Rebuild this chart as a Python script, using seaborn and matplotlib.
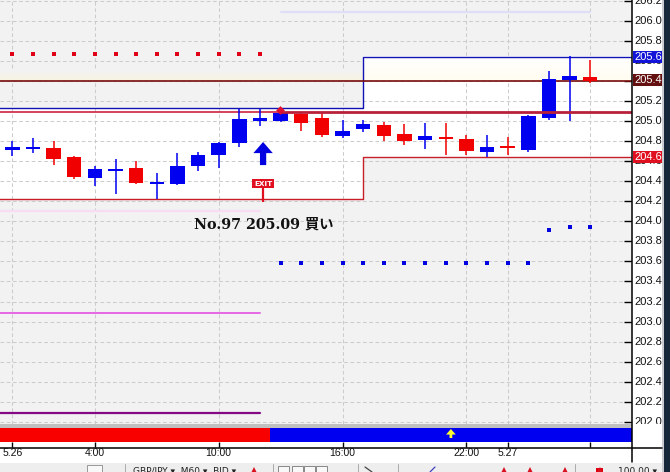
import numpy as np
import pandas as pd
import matplotlib
matplotlib.use("Agg")
import matplotlib.pyplot as plt
from matplotlib.patches import Rectangle
import seaborn as sns

sns.set_theme(style="white")

# --- data ---
opens  = [204.74,204.744,204.731,204.638,204.432,204.502,204.532,204.375,204.372,204.552,204.664,204.784,205.00,205.00,205.07,205.03,
          204.85,204.92,204.96,204.87,204.811,204.84,204.82,204.691,204.751,204.711,205.03,205.408,205.438]
closes = [204.714,204.721,204.622,204.445,204.522,204.522,204.382,204.392,204.552,204.661,204.781,205.02,205.03,205.08,204.983,204.861,
          204.90,204.97,204.85,204.80,204.85,204.82,204.70,204.741,204.731,205.05,205.418,205.448,205.40]
highs  = [204.80,204.828,204.80,204.651,204.552,204.622,204.602,204.479,204.681,204.691,204.794,205.123,205.123,205.12,205.083,205.083,
          205.01,205.01,204.987,204.97,204.98,204.98,204.861,204.861,204.84,205.06,205.498,205.647,205.607]
lows   = [204.654,204.678,204.565,204.419,204.353,204.273,204.375,204.22,204.366,204.505,204.532,204.744,204.953,204.993,204.903,204.844,
          204.83,204.893,204.80,204.761,204.721,204.661,204.661,204.641,204.661,204.691,205.01,205.0,205.375]
bull   = [1,1,0,0,1,1,0,1,1,1,1,1,1,1,0,0,1,1,0,0,1,0,0,1,0,1,1,1,0]

y_ticks = [206.2,206.0,205.8,205.6,205.4,205.2,205.0,204.8,204.6,204.4,204.2,204.0,203.8,203.6,203.4,203.2,203.0,202.8,202.6,202.4,202.2,202.0]
x_tick_idx = [0,4,10,16,22,24,28]
x_tick_lbl = ["5.26","4:00","10:00","16:00","22:00","5.27",""]

upper_x, upper_y = [-1,17.01,17.01,31], [205.126,205.126,205.64,205.64]
lower_x, lower_y = [-1,17.01,17.01,31], [204.22,204.22,204.638,204.638]
res_level = 205.40
entry_level = 205.09
entry_idx = 13
pink_level, magenta_level, purple_level = 204.104, 203.088, 202.09
top_level = 206.086
red_dot_idx = list(range(0,13))
red_dot_y = [205.662]*13
blue_dot_idx = list(range(13,29))
blue_dot_y = [203.58]*13 + [203.914,203.944,203.944]
exit_idx, exit_price = 12.15, 204.193
arrow_low, arrow_high = 204.56, 204.79
bar_split = 12.49
n_bars = 29
badges = [(205.64,"205.64","#1414d8"),(205.41,"205.41","#641010"),(204.64,"204.64","#e01020")]

BLUE, RED = "#0000f0", "#f00000"
df = pd.DataFrame(dict(i=range(n_bars), o=opens, c=closes, h=highs, l=lows, bull=bull))

W, H = 670, 472
STEP = 20.64
fig = plt.figure(figsize=(W/100, H/100), dpi=100, facecolor="white")
def box(l, t, r, b):
    return [l/W, 1-b/H, (r-l)/W, (b-t)/H]

xlim = (-12.3/STEP, (632-12.3)/STEP)
ylim = (201.98, 206.205)

ax = fig.add_axes(box(0,0,632,424), facecolor="#f2f2f3")
ax.set_xlim(xlim); ax.set_ylim(ylim)

# channel fill and cream band
ax.fill_between(upper_x, lower_y, upper_y, color="white", lw=0, zorder=0.5)
cream = matplotlib.colors.LinearSegmentedColormap.from_list("c", ["#fffdf0","#ffffff"])
ax.imshow(np.linspace(0,1,20)[:,None], cmap=cream, aspect="auto", zorder=0.6,
          extent=(17.01,xlim[1],res_level,upper_y[-1]), origin="lower")
cream2 = matplotlib.colors.LinearSegmentedColormap.from_list("c2", ["#f8f4e2","#f2f2f3"])
ax.imshow(np.linspace(0,1,20)[:,None], cmap=cream2, aspect="auto", zorder=0.6,
          extent=(xlim[0],17.01,res_level,res_level+0.1), origin="lower")
ax.set_xlim(xlim); ax.set_ylim(ylim)

# grid
ax.set_yticks(y_ticks); ax.set_xticks(x_tick_idx)
ax.set_xticklabels([]); ax.set_yticklabels([])
ax.grid(True, color="#cccccc", ls=(0,(3.5,2.5)), lw=0.75, zorder=1)
ax.set_axisbelow(True)
ax.tick_params(axis="both", length=0)
ax.yaxis.tick_right()
ax.tick_params(axis="y", right=True, direction="in", length=6, width=1, color="black")
for s in ax.spines.values():
    s.set_visible(False)

# levels
def level(xs, ys, color, lw, z=3):
    sns.lineplot(x=xs, y=ys, ax=ax, color=color, lw=lw, zorder=z, legend=False, sort=False, estimator=None)
level(upper_x, upper_y, "#1212b4", 1.0)
level(lower_x, lower_y, "#c81e28", 1.0)
level([-1,31], [res_level]*2, "#7a0c0c", 1.2)
level([-1,entry_idx], [entry_level]*2, "#c8102e", 1.1)
level([entry_idx,31], [entry_level]*2, "#b8203a", 2.0, z=6)
level([-1,12], [pink_level]*2, "#f8dcf2", 1.6)
level([-1,12], [magenta_level]*2, "#e468e4", 1.4)
level([-1,12], [purple_level]*2, "#840a84", 1.6)
level([13,28], [top_level]*2, "#dedef8", 1.6)

# candles
colors = [BLUE if b else RED for b in df.bull]
ax.vlines(df.i, df.l, df.h, colors=colors, lw=1.1, zorder=4)
ax.bar(df.i, (df.c-df.o).abs().clip(lower=0.02), bottom=df[["o","c"]].min(axis=1),
       width=0.70, color=colors, lw=0, zorder=5)

# dots
sns.scatterplot(x=red_dot_idx, y=red_dot_y, ax=ax, color="#e00018", marker="s", s=10, lw=0, zorder=4, legend=False)
sns.scatterplot(x=blue_dot_idx, y=blue_dot_y, ax=ax, color="#0000e0", marker="s", s=10, lw=0, zorder=4, legend=False)
ax.scatter([entry_idx-0.05],[entry_level+0.015], marker="D", s=20, color="#e01030", lw=0, zorder=7)

# signals
ax.annotate("", xy=(exit_idx,arrow_high), xytext=(exit_idx,arrow_low), zorder=7,
            arrowprops=dict(facecolor="#0000e0", edgecolor="none", width=4.5, headwidth=14, headlength=8, shrinkA=0, shrinkB=0))
ax.vlines([exit_idx],[exit_price],[204.33], color="#e01020", lw=1.6, zorder=7)
ax.text(exit_idx, 204.375, "EXIT", color="white", fontsize=5.2, fontweight="bold", ha="center", va="center",
        family="DejaVu Sans", zorder=8,
        bbox=dict(boxstyle="square,pad=0.22", fc="#e01020", ec="none"))
ax.text(8.80, 203.97, "No.97 205.09 買い", fontsize=10.3, fontweight="bold", color="#111111",
        family=["DejaVu Serif","Noto Sans CJK JP"], ha="left", va="center", zorder=8)

# price panel
pn = fig.add_axes(box(632,0,662,424), facecolor="white")
pn.set_xlim(0,30); pn.set_ylim(ylim); pn.set_xticks([]); pn.set_yticks([])
for s in pn.spines.values():
    s.set_visible(False)
LBL = dict(fontsize=8, family="Liberation Sans", va="center", ha="left", clip_on=True)
for t in y_ticks:
    pn.text(2, t, f"{t:.2f}", color="#111111", **LBL)
for p, s, c in badges:
    pn.add_patch(Rectangle((1,p-0.06),29,0.12,fc=c,ec="none",zorder=3))
    pn.text(2, p, s, color="white", zorder=4, **LBL)

# signal strip
st = fig.add_axes(box(0,424,632,447), facecolor="white")
st.set_xlim(xlim); st.set_ylim(447,424)
st.set_yticks([]); st.set_xticks(x_tick_idx); st.set_xticklabels([])
st.tick_params(axis="x", bottom=True, direction="in", length=3.5, width=1, color="black")
for s in st.spines.values():
    s.set_visible(False)
st.axhspan(424,428,color="#c0c0c0",lw=0)
st.barh([435],[bar_split-xlim[0]],left=xlim[0],height=14,color="#f80000",lw=0)
st.barh([435],[xlim[1]-bar_split],left=bar_split,height=14,color="#0000f0",lw=0)
st.annotate("", xy=(21.25,429), xytext=(21.25,438),
            arrowprops=dict(facecolor="#ffff30", edgecolor="none", width=2, headwidth=7, headlength=4, shrinkA=0, shrinkB=0))

# chrome overlay
ov = fig.add_axes([0,0,1,1], facecolor="none", zorder=20)
ov.set_xlim(0,W); ov.set_ylim(H,0); ov.axis("off")
ov.add_patch(Rectangle((664,0),6,H,fc="#17283a",ec="none"))
ov.add_patch(Rectangle((662,0),2,H,fc="#c8ccd0",ec="none"))
ov.add_patch(Rectangle((0,463),662,9,fc="#eeeeee",ec="none"))
ov.plot([632,632],[0,462],color="black",lw=1.1)
ov.plot([0,662],[447.5,447.5],color="black",lw=1.1)
for i, lab in zip(x_tick_idx, x_tick_lbl):
    ov.text(12.3+STEP*i, 453, lab, fontsize=7.5, family="Liberation Sans", color="#111111", ha="center", va="center")
tb = dict(fontsize=6.5, family="DejaVu Sans", color="#222222", va="center", ha="left", clip_on=True)
ov.text(133, 472, "GBP/JPY ▾  M60 ▾  BID ▾", **tb)
ov.text(618, 472, "100.00 ▾", **tb)
ov.add_patch(Rectangle((87,465),15,8,fc="#f8f8f8",ec="#999999",lw=0.7))
for x in (125, 273, 358, 398, 575):
    ov.plot([x,x],[464,472],color="#aaaaaa",lw=0.7)
for x in (278,292,304,316):
    ov.add_patch(Rectangle((x,466),11,7,fc="#f8f8f8",ec="#777777",lw=0.6))
for x in (254,504,530,565,600):
    ov.plot([x],[470],marker="^",ms=4.5,color="#d81020",mew=0)
ov.add_patch(Rectangle((596,468),7,5,fc="#e00010",ec="none"))
ov.plot([430,435],[472,467],color="#4040c0",lw=0.9)
ov.plot([365,372],[467,472],color="#444444",lw=0.9)
ov.set_xlim(0,W); ov.set_ylim(H,0)

fig.savefig("out.png", dpi=100)
